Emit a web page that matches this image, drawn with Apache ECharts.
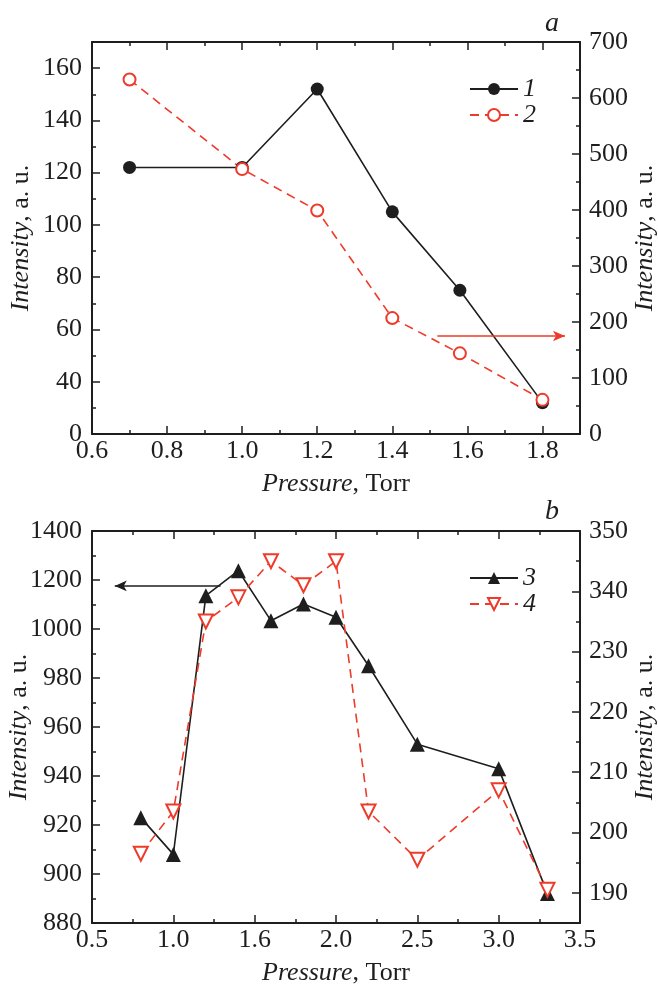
<!DOCTYPE html>
<html>
<head>
<meta charset="utf-8">
<script src="https://cdn.jsdelivr.net/npm/echarts@6/dist/echarts.min.js"></script>
<style>
html, body { margin: 0; padding: 0; background: #fff; }
#chart { width: 658px; height: 985px; }
</style>
</head>
<body>
<div id="chart"></div>
<script>
// ---- panel a ----
var pressureA = [0.7, 1.0, 1.2, 1.4, 1.58, 1.8];
var intensity1 = [122, 122, 152, 105, 75, 32];       // left axis
var intensity2 = [633, 473, 399, 207, 144, 61];      // right axis
var xTickValsA = [0.6, 0.8, 1.0, 1.2, 1.4, 1.6, 1.8];
var xTickLabelsA = ['0.6', '0.8', '1.0', '1.2', '1.4', '1.6', '1.8'];
var yLeftValsA = [20, 40, 60, 80, 100, 120, 140, 160];
var yLeftLabelsA = ['0', '40', '60', '80', '100', '120', '140', '160'];
var arrowA = [[1.52, 175], [1.86, 175]];             // pressure, right-axis intensity

// ---- panel b ----
var pressureB = [0.8, 1.0, 1.2, 1.4, 1.6, 1.8, 2.0, 2.2, 2.5, 3.0, 3.3];
var intensity3 = [923, 908, 1136, 1238, 1034, 1102, 1048, 985, 953, 943, 892];
var intensity4 = [196.5, 203.5, 335, 339, 345, 341, 345, 203.5, 195.5, 207, 190.5];
var xTickLabelsB = ['0.5', '1.0', '1.6', '2.0', '2.5', '3.0', '3.5'];
var yLeftLabelsB = ['880', '900', '920', '940', '960', '980', '1000', '1200', '1400'];
var yRightLabelsB = ['190', '200', '210', '220', '230', '340', '350'];
var arrowB = [[1.29, 1176], [0.64, 1176]];

var FONT = 'Liberation Serif';
var INK = '#1e1e1e';
var RED = '#ee3a2a';
var FS = 26;

// broken axes in panel b -> position along the axis (one step per label)
function leftIdx(v) {
    return v >= 1000 ? 6 + (v - 1000) / 200 : (v - 880) / 20;
}
function rightIdx(v) {
    return v >= 300 ? 5 + (v - 340) / 10 : (v - 190) / 10;
}
function zip(xs, ys, f) {
    return xs.map(function (x, i) { return [x, f ? f(ys[i]) : ys[i]]; });
}

var lineAxis = { onZero: false, lineStyle: { color: INK, width: 2 } };
var tickIn = { show: true, inside: true, length: 8, lineStyle: { color: INK, width: 1.5 } };
var minorIn = { show: true, splitNumber: 2, length: 4, lineStyle: { color: INK, width: 1.5 } };
var labelFont = { fontFamily: FONT, fontSize: FS, color: INK };
var nameStyle = {
    fontFamily: FONT, fontSize: FS, color: INK,
    rich: { i: { fontFamily: FONT, fontSize: FS, fontStyle: 'italic', color: INK } }
};

function xAxisA(top) {
    return {
        type: 'value', gridIndex: 0, position: top ? 'top' : 'bottom',
        min: 0.6, max: 1.9, interval: 0.2,
        axisLine: lineAxis, axisTick: tickIn, minorTick: minorIn, splitLine: { show: false },
        axisLabel: top ? { show: false } : Object.assign({
            margin: 4, showMaxLabel: false,
            formatter: function (v) {
                for (var i = 0; i < xTickValsA.length; i++) {
                    if (Math.abs(xTickValsA[i] - v) < 1e-6) return xTickLabelsA[i];
                }
                return '';
            }
        }, labelFont),
        name: top ? '' : '{i|Pressure}, Torr', nameLocation: 'middle', nameGap: 37,
        nameTextStyle: nameStyle, nameMoveOverlap: false
    };
}
function xAxisB(top) {
    return {
        type: 'value', gridIndex: 1, position: top ? 'top' : 'bottom',
        min: 0.5, max: 3.5, interval: 0.5,
        axisLine: lineAxis, axisTick: tickIn, minorTick: minorIn, splitLine: { show: false },
        axisLabel: top ? { show: false } : Object.assign({
            margin: 4,
            formatter: function (v) { return xTickLabelsB[Math.round((v - 0.5) / 0.5)] || ''; }
        }, labelFont),
        name: top ? '' : '{i|Pressure}, Torr', nameLocation: 'middle', nameGap: 37,
        nameTextStyle: nameStyle, nameMoveOverlap: false
    };
}

var option = {
    animation: false,
    backgroundColor: '#fff',
    title: [
        { text: 'a', left: 540, top: 5, textStyle: { fontFamily: FONT, fontSize: 28, fontStyle: 'italic', fontWeight: 'normal', color: INK } },
        { text: 'b', left: 540, top: 493, textStyle: { fontFamily: FONT, fontSize: 28, fontStyle: 'italic', fontWeight: 'normal', color: INK } }
    ],
    grid: [
        { left: 92, top: 42, width: 488, height: 392, containLabel: false, outerBoundsMode: 'none' },
        { left: 92, top: 531, width: 488, height: 392, containLabel: false, outerBoundsMode: 'none' }
    ],
    legend: [
        {
            data: ['1', '2'], orient: 'vertical', left: 464, top: 71,
            itemWidth: 48, itemHeight: 15, itemGap: 0,
            textStyle: { fontFamily: FONT, fontSize: FS, fontStyle: 'italic', color: INK }
        },
        {
            data: ['3', '4'], orient: 'vertical', left: 464, top: 560,
            itemWidth: 48, itemHeight: 15, itemGap: 0,
            textStyle: { fontFamily: FONT, fontSize: FS, fontStyle: 'italic', color: INK }
        }
    ],
    xAxis: [xAxisA(false), xAxisA(true), xAxisB(false), xAxisB(true)],
    yAxis: [
        {   // a left
            type: 'value', gridIndex: 0, position: 'left', min: 20, max: 170, interval: 20,
            axisLine: lineAxis, axisTick: tickIn, minorTick: minorIn, splitLine: { show: false },
            axisLabel: Object.assign({
                margin: 10, showMaxLabel: false,
                formatter: function (v) { var i = yLeftValsA.indexOf(v); return i < 0 ? '' : yLeftLabelsA[i]; }
            }, labelFont),
            name: '{i|Intensity}, a. u.', nameLocation: 'middle', nameGap: 58, nameRotate: 90,
            nameTextStyle: nameStyle, nameMoveOverlap: false
        },
        {   // a right
            type: 'value', gridIndex: 0, position: 'right', min: 0, max: 700, interval: 100,
            axisLine: lineAxis, axisTick: tickIn, minorTick: minorIn, splitLine: { show: false },
            axisLabel: Object.assign({ margin: 9 }, labelFont),
            name: '{i|Intensity}, a. u.', nameLocation: 'middle', nameGap: 52, nameRotate: 90,
            nameTextStyle: nameStyle, nameMoveOverlap: false
        },
        {   // b left, broken scale
            type: 'value', gridIndex: 1, position: 'left', min: 0, max: 8, interval: 1,
            axisLine: lineAxis, axisTick: tickIn, minorTick: minorIn, splitLine: { show: false },
            axisLabel: Object.assign({
                margin: 10,
                formatter: function (v) { return yLeftLabelsB[Math.round(v)] || ''; }
            }, labelFont),
            name: '{i|Intensity}, a. u.', nameLocation: 'middle', nameGap: 60, nameRotate: 90,
            nameTextStyle: nameStyle, nameMoveOverlap: false
        },
        {   // b right, broken scale
            type: 'value', gridIndex: 1, position: 'right', min: -0.5, max: 6,
            axisLine: lineAxis,
            axisTick: Object.assign({ customValues: [0, 1, 2, 3, 4, 5, 6] }, tickIn),
            splitLine: { show: false },
            axisLabel: Object.assign({
                margin: 9, customValues: [0, 1, 2, 3, 4, 5, 6],
                formatter: function (v) { return yRightLabelsB[Math.round(v)] || ''; }
            }, labelFont),
            name: '{i|Intensity}, a. u.', nameLocation: 'middle', nameGap: 52, nameRotate: 90,
            nameTextStyle: nameStyle, nameMoveOverlap: false
        },
        {   // b right, minor ticks only
            type: 'value', gridIndex: 1, position: 'right', min: -0.5, max: 6,
            axisLine: { show: false, onZero: false },
            axisTick: { show: true, inside: true, length: 4, customValues: [0.5, 1.5, 2.5, 3.5, 4.5, 5.5], lineStyle: { color: INK, width: 1.5 } },
            axisLabel: { show: false }, splitLine: { show: false }
        }
    ],
    series: [
        {
            name: '1', type: 'line', xAxisIndex: 0, yAxisIndex: 0,
            data: zip(pressureA, intensity1),
            symbol: 'circle', symbolSize: 13,
            itemStyle: { color: INK },
            lineStyle: { color: INK, width: 1.6 }
        },
        {
            name: '2', type: 'line', xAxisIndex: 0, yAxisIndex: 1,
            data: zip(pressureA, intensity2),
            symbol: 'emptyCircle', symbolSize: 12,
            itemStyle: { color: RED, borderColor: RED, borderWidth: 1.6 },
            lineStyle: { color: RED, width: 1.6, type: [9, 6] },
            markLine: {
                silent: true, symbol: ['none', 'arrow'], symbolSize: [8, 12],
                label: { show: false },
                lineStyle: { color: RED, width: 1.5, type: 'solid' },
                data: [[{ coord: arrowA[0] }, { coord: arrowA[1] }]]
            }
        },
        {
            name: '3', type: 'line', xAxisIndex: 2, yAxisIndex: 2,
            data: zip(pressureB, intensity3, leftIdx),
            symbol: 'triangle', symbolSize: 15,
            itemStyle: { color: INK },
            lineStyle: { color: INK, width: 1.6 },
            markLine: {
                silent: true, symbol: ['none', 'arrow'], symbolSize: [8, 12],
                label: { show: false },
                lineStyle: { color: INK, width: 1.5, type: 'solid' },
                data: [[
                    { coord: [arrowB[0][0], leftIdx(arrowB[0][1])] },
                    { coord: [arrowB[1][0], leftIdx(arrowB[1][1])] }
                ]]
            }
        },
        {
            name: '4', type: 'line', xAxisIndex: 2, yAxisIndex: 3,
            data: zip(pressureB, intensity4, rightIdx),
            symbol: 'emptyTriangle', symbolSize: 14, symbolRotate: 180,
            itemStyle: { color: RED, borderColor: RED, borderWidth: 1.6 },
            lineStyle: { color: RED, width: 1.6, type: [9, 6] }
        }
    ]
};

var myChart = echarts.init(document.getElementById('chart'));
myChart.setOption(option);
</script>
</body>
</html>
